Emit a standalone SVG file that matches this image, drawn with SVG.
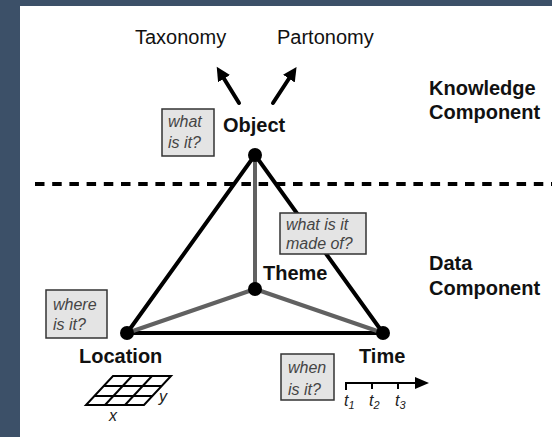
<svg xmlns="http://www.w3.org/2000/svg" width="552" height="437" viewBox="0 0 552 437">
<defs>
<style>
.lbl{font-family:"Liberation Sans",Arial,sans-serif;font-size:20px;fill:#111}
.b{font-weight:bold}
.q{font-family:"Liberation Sans",Arial,sans-serif;font-size:16px;font-style:italic;fill:#444}
.box{fill:#e4e4e4;stroke:#333;stroke-width:1.5}
.blk{stroke:#000;stroke-width:4;fill:none;stroke-linecap:round}
.gry{stroke:#616161;stroke-width:4;fill:none;stroke-linecap:round}
.dot{fill:#000}
.grid{stroke:#000;stroke-width:2;fill:none}
.ax{font-family:"Liberation Sans",Arial,sans-serif;font-style:italic;fill:#222}
</style>
<marker id="ah" markerUnits="userSpaceOnUse" markerWidth="16" markerHeight="16" refX="2" refY="8" orient="auto" viewBox="0 0 16 16">
<path d="M0,1 L14,8 L0,15 Z" fill="#000"/>
</marker>
</defs>
<rect x="0" y="0" width="552" height="437" fill="#3c5068"/>
<rect x="20" y="6" width="532" height="431" fill="#fff"/>

<g id="divider">
<line x1="35" y1="184" x2="552" y2="184" stroke="#000" stroke-width="4" stroke-dasharray="9.5 7.7"/>
</g>

<g id="connectors">
<line class="blk" x1="255" y1="155" x2="127" y2="333"/>
<line class="blk" x1="255" y1="155" x2="383" y2="333"/>
<line class="blk" x1="127" y1="333" x2="383" y2="333"/>
<line class="gry" x1="255" y1="155" x2="255" y2="289"/>
<line class="gry" x1="255" y1="289" x2="127" y2="333"/>
<line class="gry" x1="255" y1="289" x2="383" y2="333"/>
<line class="blk" x1="239" y1="103" x2="223" y2="77" stroke-linecap="butt" marker-end="url(#ah)"/>
<line class="blk" x1="273" y1="103" x2="290" y2="77" stroke-linecap="butt" marker-end="url(#ah)"/>
</g>

<g id="taxonomy"><text class="lbl" x="135" y="44">Taxonomy</text></g>
<g id="partonomy"><text class="lbl" x="277" y="44">Partonomy</text></g>
<g id="knowledge-component"><text class="lbl b" x="429" y="95">Knowledge</text><text class="lbl b" x="429" y="119">Component</text></g>
<g id="data-component"><text class="lbl b" x="429" y="270">Data</text><text class="lbl b" x="429" y="295">Component</text></g>

<g id="object">
<circle class="dot" cx="255" cy="155" r="7"/>
<text class="lbl b" x="223" y="132">Object</text>
<rect class="box" x="162" y="109" width="52" height="47"/>
<text class="q" x="168" y="127">what</text>
<text class="q" x="168" y="148">is it?</text>
</g>

<g id="theme">
<circle class="dot" cx="255" cy="289" r="7"/>
<text class="lbl b" x="263" y="280">Theme</text>
<rect class="box" x="280" y="213" width="86" height="41"/>
<text class="q" x="286" y="230">what is it</text>
<text class="q" x="286" y="249">made of?</text>
</g>

<g id="location">
<circle class="dot" cx="127" cy="333" r="7"/>
<text class="lbl b" x="79" y="363">Location</text>
<rect class="box" x="46" y="290" width="61" height="48"/>
<text class="q" x="53" y="310">where</text>
<text class="q" x="53" y="330">is it?</text>
<g class="grid">
<path d="M113,376 L171,376 L144,405 L86,405 Z"/>
<line x1="104" y1="386" x2="162" y2="386"/>
<line x1="95" y1="396" x2="153" y2="396"/>
<line x1="132" y1="376" x2="105" y2="405"/>
<line x1="152" y1="376" x2="125" y2="405"/>
</g>
<text class="ax" x="109" y="421" font-size="16">x</text>
<text class="ax" x="159" y="402" font-size="16">y</text>
</g>

<g id="time">
<circle class="dot" cx="383" cy="333" r="7"/>
<text class="lbl b" x="359" y="363">Time</text>
<rect class="box" x="281" y="354" width="53" height="46"/>
<text class="q" x="288" y="373">when</text>
<text class="q" x="288" y="395">is it?</text>
<path d="M346,390 L346,383 L417,383" stroke="#000" stroke-width="2" fill="none"/>
<path d="M372,383 L372,389 M398,383 L398,389" stroke="#000" stroke-width="2" fill="none"/>
<path d="M415,377 L429,383 L415,389 Z" fill="#000"/>
<text class="ax" x="344" y="406" font-size="16">t<tspan font-size="11" dy="3">1</tspan></text>
<text class="ax" x="369" y="406" font-size="16">t<tspan font-size="11" dy="3">2</tspan></text>
<text class="ax" x="395" y="406" font-size="16">t<tspan font-size="11" dy="3">3</tspan></text>
</g>
</svg>
